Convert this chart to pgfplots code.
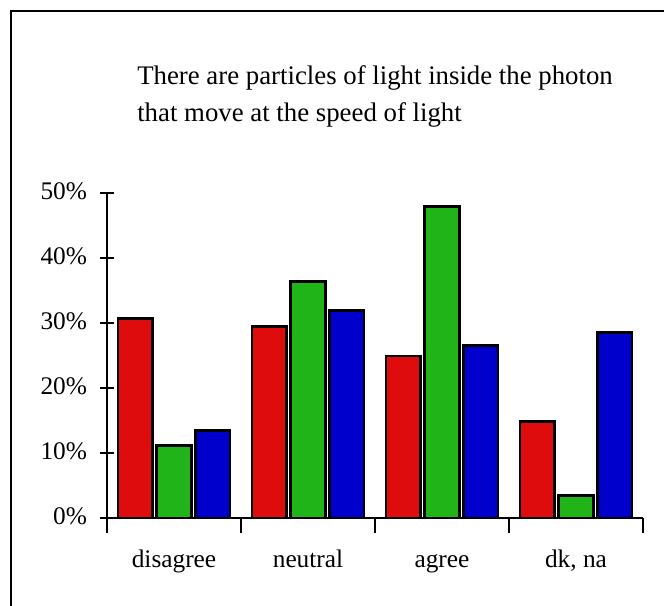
\documentclass[border=0pt]{standalone}
\usepackage{pgfplots}
\pgfplotsset{compat=1.18}
\usepackage{fontspec}
\setmainfont{Liberation Serif}
\definecolor{barred}{RGB}{222,12,12}
\definecolor{bargreen}{RGB}{32,180,24}
\definecolor{barblue}{RGB}{0,0,204}
\begin{document}
\fontsize{19}{23}\selectfont
\begin{tikzpicture}[x=0.75pt,y=0.75pt]
\useasboundingbox (0,0) rectangle (664,606);
% frame (only left and top edge visible)
\draw[line width=2pt] (11,0) -- (11,595) -- (664,595);
% title
\node[anchor=base west,inner sep=0pt,font=\fontsize{20.1}{24}\selectfont] at (137,521) {There are particles of light inside the photon};
\node[anchor=base west,inner sep=0pt,font=\fontsize{20.1}{24}\selectfont] at (137,484) {that move at the speed of light};
\begin{axis}[
    at={(80.25pt,66pt)}, anchor=south west,
    scale only axis,
    width=402pt, height=244pt,
    xmin=-0.5, xmax=3.5,
    ymin=0, ymax=50,
    axis lines=left,
    axis line style={-, line width=1.6pt},
    every tick/.style={black, line width=1.6pt},
    tick align=center,
    major tick length=11pt,
    xtick={-0.5,0.5,1.5,2.5,3.5},
    x tick label as interval,
    xticklabels={disagree,neutral,agree,{dk, na}},
    xticklabel style={anchor=base, yshift=-26pt},
    ytick={0,10,20,30,40,50},
    yticklabels={0\%,10\%,20\%,30\%,40\%,50\%},
    yticklabel style={anchor=east, xshift=-3pt, yshift=1pt},
    ticklabel style={font=\fontsize{19}{23}\selectfont},
    ybar,
    bar width=26pt,
    axis on top,
    clip=false,
]
\addplot[fill=barred, draw=black, line width=2.2pt, bar shift=-29pt] coordinates {
    (0,30.6) (1,29.4) (2,24.9) (3,14.9)
};
\addplot[fill=bargreen, draw=black, line width=2.2pt, bar shift=0pt] coordinates {
    (0,11.2) (1,36.4) (2,47.9) (3,3.4)
};
\addplot[fill=barblue, draw=black, line width=2.2pt, bar shift=29pt] coordinates {
    (0,13.4) (1,31.9) (2,26.5) (3,28.5)
};
\end{axis}
\end{tikzpicture}
\end{document}
